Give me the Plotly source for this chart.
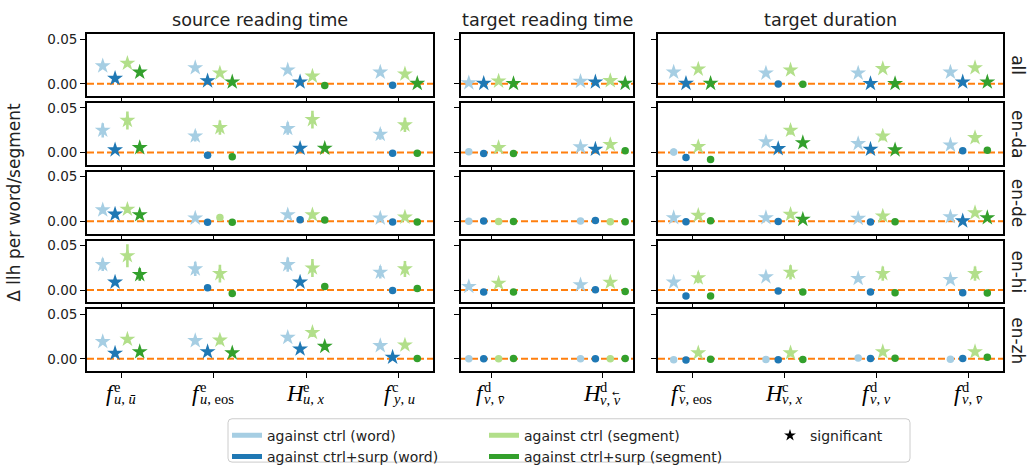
import re
import plotly.graph_objects as go

W, H = 1035, 473

# ---------------- data ----------------
ROWS = ["all", "en-da", "en-de", "en-hi", "en-zh"]
GROUPS = ["source reading time", "target reading time", "target duration"]
GROUP_SIZES = [4, 2, 4]

# tick labels: main symbol, superscript, subscript (arrow flag marks an over-left-arrow on last symbol)
TICK_MAIN = ["f", "f", "H", "f", "f", "H", "f", "H", "f", "f"]
TICK_SUP = ["e", "e", "e", "c", "d", "d", "c", "c", "d", "d"]
TICK_SUB = ["<i>u</i>, <i>ū</i>", "<i>u</i>, eos", "<i>u</i>, <i>x</i>", "<i>y</i>, <i>u</i>",
            "<i>v</i>, <i>v̄</i>", "<i>v</i>, <i>v</i>",
            "<i>v</i>, eos", "<i>v</i>, <i>x</i>", "<i>v</i>, <i>v</i>", "<i>v</i>, <i>v̄</i>"]
TICK_SUB_ARROW = [0, 0, 0, 0, 0, 1, 0, 0, 0, 0]

SERIES = ["against ctrl (word)", "against ctrl+surp (word)",
          "against ctrl (segment)", "against ctrl+surp (segment)"]
COLORS = ["#a6cee3", "#1f78b4", "#b2df8a", "#33a02c"]

# values: rows (all, en-da, en-de, en-hi, en-zh) x 10 features
CTRL_WORD = [
    [0.020, 0.018, 0.0155, 0.013, 0.001, 0.0027, 0.013, 0.012, 0.012, 0.013],
    [0.025, 0.0185, 0.027, 0.0204, 0.001, 0.0063, 0.0007, 0.012, 0.010, 0.0085],
    [0.0128, 0.0036, 0.0073, 0.0036, 0.0, 0.0003, 0.004, 0.004, 0.0033, 0.0051],
    [0.0285, 0.0237, 0.0285, 0.020, 0.004, 0.0059, 0.0089, 0.0148, 0.013, 0.0118],
    [0.0193, 0.0204, 0.024, 0.0148, 0.0, 0.0, -0.001, -0.0007, 0.001, -0.0003],
]
CTRL_WORD_ERR = [
    [0.002, 0.002, 0.002, 0.002, 0.001, 0.001, 0.002, 0.002, 0.002, 0.002],
    [0.008, 0.006, 0.007, 0.006, 0.002, 0.003, 0.004, 0.003, 0.003, 0.003],
    [0.004, 0.003, 0.003, 0.003, 0.001, 0.001, 0.002, 0.002, 0.002, 0.002],
    [0.007, 0.008, 0.008, 0.007, 0.003, 0.003, 0.003, 0.003, 0.003, 0.004],
    [0.003, 0.004, 0.004, 0.003, 0.001, 0.001, 0.001, 0.001, 0.002, 0.001],
]
CTRL_WORD_SIG = [
    [1, 1, 1, 1, 1, 1, 1, 1, 1, 1],
    [1, 1, 1, 1, 0, 1, 0, 1, 1, 1],
    [1, 1, 1, 1, 0, 0, 1, 1, 1, 1],
    [1, 1, 1, 1, 1, 1, 1, 1, 1, 1],
    [1, 1, 1, 1, 0, 0, 0, 0, 0, 0],
]

CTRL_SURP_WORD = [
    [0.006, 0.0033, 0.002, -0.0015, 0.0005, 0.002, 0.0005, -0.0003, 0.0003, 0.002],
    [0.003, -0.003, 0.0048, -0.0007, -0.001, 0.0037, -0.0055, 0.0044, 0.0037, 0.0019],
    [0.008, -0.001, 0.0018, -0.0007, 0.0005, 0.001, -0.0004, -0.0002, -0.0007, 0.0004],
    [0.0089, 0.0026, 0.0089, -0.0004, -0.0022, 0.0004, -0.0067, -0.001, -0.0022, -0.003],
    [0.0063, 0.008, 0.011, 0.0018, 0.0002, 0.0002, -0.0014, -0.001, 0.0003, 0.0003],
]
CTRL_SURP_WORD_ERR = [
    [0.0015, 0.0015, 0.0015, 0.0015, 0.001, 0.001, 0.0015, 0.0015, 0.0015, 0.0015],
    [0.002, 0.002, 0.002, 0.001, 0.001, 0.003, 0.002, 0.003, 0.003, 0.002],
    [0.003, 0.001, 0.001, 0.001, 0.001, 0.001, 0.001, 0.001, 0.001, 0.002],
    [0.003, 0.003, 0.003, 0.001, 0.001, 0.001, 0.002, 0.001, 0.001, 0.001],
    [0.003, 0.003, 0.003, 0.002, 0.001, 0.001, 0.001, 0.001, 0.001, 0.001],
]
CTRL_SURP_WORD_SIG = [
    [1, 1, 1, 0, 1, 1, 1, 0, 1, 1],
    [1, 0, 1, 0, 0, 1, 0, 1, 1, 0],
    [1, 0, 0, 0, 0, 0, 0, 0, 0, 1],
    [1, 0, 1, 0, 0, 0, 0, 0, 0, 0],
    [1, 1, 1, 1, 0, 0, 0, 0, 0, 0],
]

CTRL_SEG = [
    [0.023, 0.012, 0.0085, 0.011, 0.003, 0.0035, 0.0165, 0.0155, 0.017, 0.018],
    [0.036, 0.028, 0.037, 0.031, 0.0055, 0.009, 0.0067, 0.025, 0.0185, 0.0167],
    [0.0135, 0.0044, 0.0073, 0.0047, -0.0003, -0.0005, 0.0066, 0.0077, 0.0059, 0.0096],
    [0.0385, 0.0185, 0.0248, 0.0237, 0.0077, 0.0088, 0.0137, 0.020, 0.0185, 0.0185],
    [0.022, 0.021, 0.0296, 0.0155, 0.0, 0.0, 0.0067, 0.0067, 0.008, 0.008],
]
CTRL_SEG_ERR = [
    [0.003, 0.003, 0.003, 0.003, 0.002, 0.002, 0.003, 0.003, 0.003, 0.003],
    [0.010, 0.008, 0.010, 0.008, 0.004, 0.004, 0.004, 0.005, 0.005, 0.005],
    [0.004, 0.003, 0.004, 0.003, 0.001, 0.001, 0.003, 0.003, 0.003, 0.003],
    [0.013, 0.010, 0.010, 0.009, 0.004, 0.004, 0.006, 0.008, 0.008, 0.008],
    [0.004, 0.005, 0.005, 0.003, 0.001, 0.001, 0.003, 0.004, 0.004, 0.004],
]
CTRL_SEG_SIG = [
    [1, 1, 1, 1, 1, 1, 1, 1, 1, 1],
    [1, 1, 1, 1, 1, 1, 1, 1, 1, 1],
    [1, 0, 1, 1, 0, 0, 1, 1, 1, 1],
    [1, 1, 1, 1, 1, 1, 1, 1, 1, 1],
    [1, 1, 1, 1, 0, 0, 1, 1, 1, 1],
]

CTRL_SURP_SEG = [
    [0.013, 0.002, -0.002, 0.0004, 0.0003, 0.0005, 0.0005, -0.0005, 0.0003, 0.002],
    [0.0055, -0.0048, 0.0048, -0.0007, -0.001, 0.002, -0.0078, 0.011, 0.003, 0.0026],
    [0.0073, -0.001, 0.0015, -0.0007, -0.0003, -0.0005, 0.0007, 0.0022, -0.0004, 0.004],
    [0.0174, -0.0037, 0.004, 0.0018, -0.0022, -0.0015, -0.0067, -0.0022, -0.003, -0.0033],
    [0.008, 0.0067, 0.014, 0.0004, 0.0003, 0.0003, -0.0003, -0.0007, 0.0007, 0.0018],
]
CTRL_SURP_SEG_ERR = [
    [0.002, 0.002, 0.001, 0.002, 0.001, 0.001, 0.002, 0.001, 0.002, 0.002],
    [0.002, 0.001, 0.002, 0.001, 0.001, 0.003, 0.003, 0.004, 0.004, 0.003],
    [0.003, 0.001, 0.001, 0.001, 0.001, 0.001, 0.001, 0.002, 0.001, 0.002],
    [0.007, 0.003, 0.004, 0.002, 0.001, 0.001, 0.002, 0.001, 0.001, 0.001],
    [0.003, 0.003, 0.004, 0.002, 0.001, 0.001, 0.001, 0.001, 0.002, 0.002],
]
CTRL_SURP_SEG_SIG = [
    [1, 1, 0, 1, 1, 1, 1, 0, 1, 1],
    [1, 0, 1, 0, 0, 0, 0, 1, 1, 0],
    [1, 0, 0, 0, 0, 0, 0, 1, 0, 1],
    [1, 0, 0, 0, 0, 0, 0, 0, 0, 0],
    [1, 1, 1, 0, 0, 0, 0, 0, 0, 0],
]

VALS = [CTRL_WORD, CTRL_SURP_WORD, CTRL_SEG, CTRL_SURP_SEG]
ERRS = [CTRL_WORD_ERR, CTRL_SURP_WORD_ERR, CTRL_SEG_ERR, CTRL_SURP_SEG_ERR]
SIGS = [CTRL_WORD_SIG, CTRL_SURP_WORD_SIG, CTRL_SEG_SIG, CTRL_SURP_SEG_SIG]

# ---------------- layout helpers ----------------
OFFSETS = [-0.2, -0.0667, 0.0667, 0.2]
COL_PX = [(87, 433), (461, 633), (658, 1003)]
ROW_TOP0, ROW_PITCH, ROW_H = 31.7, 69.8, 62.8
YRANGE = [-0.0138, 0.0556]
FONT = "DejaVu Sans"
MATH_FONT = "Liberation Serif"
SCRIPT_SIZE = 14.5


def fx(px):
    return px / W


def fy(py):
    return 1 - py / H


CHAR_W = {"f": 0.36, "H": 0.72, "u": 0.5, "v": 0.44, "x": 0.44, "y": 0.44, ",": 0.25,
          " ": 0.25, "e": 0.44, "o": 0.5, "s": 0.39, "d": 0.5, "c": 0.44, "ū": 0.5}


def text_w(s, size):
    plain = re.sub(r"<[^>]+>", "", s)
    return sum(CHAR_W.get(ch, 0.0) for ch in plain) * size


fig = go.Figure()
layout = {}
shapes = []
annotations = []
starts = [0, 4, 6]

for r in range(5):
    y0p = ROW_TOP0 + r * ROW_PITCH
    y1p = y0p + ROW_H
    for c in range(3):
        k = r * 3 + c + 1
        n = GROUP_SIZES[c]
        span = (n - 1) + 0.4
        m = 0.05 * span
        xk = "x" if k == 1 else f"x{k}"
        yk = "y" if k == 1 else f"y{k}"
        layout["xaxis" if k == 1 else f"xaxis{k}"] = dict(
            domain=[fx(COL_PX[c][0]), fx(COL_PX[c][1])],
            range=[-0.2 - m, n - 1 + 0.2 + m], anchor=yk,
            tickvals=list(range(n)), showticklabels=False,
            ticks="outside", ticklen=5, tickwidth=1.4, tickcolor="black",
            showline=True, linecolor="black", linewidth=1.8, mirror=True,
            showgrid=False, zeroline=False)
        layout["yaxis" if k == 1 else f"yaxis{k}"] = dict(
            domain=[fy(y1p), fy(y0p)], range=YRANGE, anchor=xk,
            tickvals=[0, 0.05], ticktext=["0.00", "0.05"],
            showticklabels=(c == 0), tickfont=dict(family=FONT, size=13.5, color="#222"),
            ticks="outside", ticklen=5, tickwidth=1.4, tickcolor="black",
            showline=True, linecolor="black", linewidth=1.8, mirror=True,
            showgrid=False, zeroline=False)
        shapes.append(dict(type="line", xref=f"{xk} domain", yref=yk, x0=0, x1=1, y0=0, y1=0,
                           line=dict(color="#ff7f0e", width=2, dash="7px,3px"), layer="below"))
        for s in range(4):
            idx = list(range(starts[c], starts[c] + n))
            vals = [VALS[s][r][i] for i in idx]
            errs = [ERRS[s][r][i] for i in idx]
            sig = [SIGS[s][r][i] for i in idx]
            fig.add_trace(go.Scatter(
                x=[j + OFFSETS[s] for j in range(n)], y=vals,
                xaxis=xk, yaxis=yk, mode="markers", showlegend=False,
                marker=dict(color=COLORS[s], symbol=["star" if g else "circle" for g in sig],
                            size=[12 if g else 7.5 for g in sig], opacity=1,
                            line=dict(width=0, color=COLORS[s])),
                error_y=dict(type="data", array=errs, visible=True, thickness=2.6, width=0,
                             color=COLORS[s])))
        # row label on the right
        if c == 2:
            annotations.append(dict(text=ROWS[r], xref="paper", yref="paper", x=fx(1018),
                                    y=fy((y0p + y1p) / 2), showarrow=False, textangle=90,
                                    font=dict(family=FONT, size=17, color="#222"),
                                    xanchor="center", yanchor="middle"))
        # column titles
        if r == 0:
            annotations.append(dict(text=GROUPS[c], xref="paper", yref="paper",
                                    x=fx((COL_PX[c][0] + COL_PX[c][1]) / 2), y=fy(17),
                                    showarrow=False, font=dict(family=FONT, size=17.6, color="#222"),
                                    xanchor="center", yanchor="middle"))
        # math tick labels under bottom row
        if r == 4:
            for j in range(n):
                i = starts[c] + j
                mw = text_w(TICK_MAIN[i], 22)
                sw = max(text_w(TICK_SUB[i], 14), text_w(TICK_SUP[i], 14))
                left = -(mw + sw) / 2
                sub_y = 403 if TICK_SUB_ARROW[i] else 401.5
                annotations.append(dict(text=f"<i>{TICK_MAIN[i]}</i>", xref=xk, yref="paper",
                                        x=j, y=fy(396), xshift=left + mw + 3, showarrow=False,
                                        xanchor="right", yanchor="middle",
                                        font=dict(family=MATH_FONT, size=23, color="black")))
                annotations.append(dict(text=TICK_SUP[i], xref=xk, yref="paper",
                                        x=j, y=fy(389.5), xshift=left + mw - 3, showarrow=False,
                                        xanchor="left", yanchor="middle",
                                        font=dict(family=MATH_FONT, size=SCRIPT_SIZE, color="black")))
                annotations.append(dict(text=TICK_SUB[i], xref=xk, yref="paper",
                                        x=j, y=fy(sub_y), xshift=left + mw - 3, showarrow=False,
                                        xanchor="left", yanchor="middle",
                                        font=dict(family=MATH_FONT, size=SCRIPT_SIZE, color="black")))
                if TICK_SUB_ARROW[i]:
                    # over-left-arrow above the last symbol of the subscript
                    plain = re.sub(r"<[^>]+>", "", TICK_SUB[i])
                    pre_w = text_w(plain[:-1], SCRIPT_SIZE)
                    annotations.append(dict(text="←", xref=xk, yref="paper",
                                            x=j, y=fy(396),
                                            xshift=left + mw - 3 + 1 + pre_w + 3.5,
                                            showarrow=False, xanchor="center", yanchor="middle",
                                            font=dict(family=FONT, size=9, color="black")))

# y axis title
annotations.append(dict(text="Δ llh per word/segment", xref="paper", yref="paper",
                        x=fx(14), y=fy(ROW_TOP0 + (4 * ROW_PITCH + ROW_H) / 2), showarrow=False,
                        textangle=-90, font=dict(family=FONT, size=17, color="#222"),
                        xanchor="center", yanchor="middle"))

# legend frame (rounded rectangle)
lx0, ly0, lx1, ly1, rr = 228, 422, 910, 466, 4
path = (f"M {fx(lx0 + rr)},{fy(ly0)} L {fx(lx1 - rr)},{fy(ly0)} "
        f"Q {fx(lx1)},{fy(ly0)} {fx(lx1)},{fy(ly0 + rr)} L {fx(lx1)},{fy(ly1 - rr)} "
        f"Q {fx(lx1)},{fy(ly1)} {fx(lx1 - rr)},{fy(ly1)} L {fx(lx0 + rr)},{fy(ly1)} "
        f"Q {fx(lx0)},{fy(ly1)} {fx(lx0)},{fy(ly1 - rr)} L {fx(lx0)},{fy(ly0 + rr)} "
        f"Q {fx(lx0)},{fy(ly0)} {fx(lx0 + rr)},{fy(ly0)} Z")
shapes.append(dict(type="path", path=path, xref="paper", yref="paper",
                   line=dict(color="#cccccc", width=1), fillcolor="white", layer="below"))

# legend entries
legend_of = ["legend", "legend", "legend2", "legend2"]
for s in range(4):
    fig.add_trace(go.Scatter(x=[None], y=[None], mode="lines", name=SERIES[s],
                             line=dict(color=COLORS[s], width=5), legend=legend_of[s],
                             showlegend=True))
fig.add_trace(go.Scatter(x=[None], y=[None], mode="markers", name="significant",
                         marker=dict(color="black", symbol="star", size=9), legend="legend3",
                         showlegend=True))

leg_common = dict(yanchor="top", xanchor="left", bgcolor="rgba(0,0,0,0)", borderwidth=0,
                  font=dict(family=FONT, size=14, color="#222"), tracegroupgap=0,
                  orientation="v")
layout["legend"] = dict(x=fx(227), y=fy(423), **leg_common)
layout["legend2"] = dict(x=fx(484), y=fy(423), **leg_common)
layout["legend3"] = dict(x=fx(770), y=fy(423), **leg_common)

fig.update_layout(width=W, height=H, margin=dict(l=0, r=0, t=0, b=0),
                  paper_bgcolor="white", plot_bgcolor="white",
                  shapes=shapes, annotations=annotations, **layout)

fig.write_html("out.html", config={"displayModeBar": False},
               post_script="document.body.style.margin='0px';")
